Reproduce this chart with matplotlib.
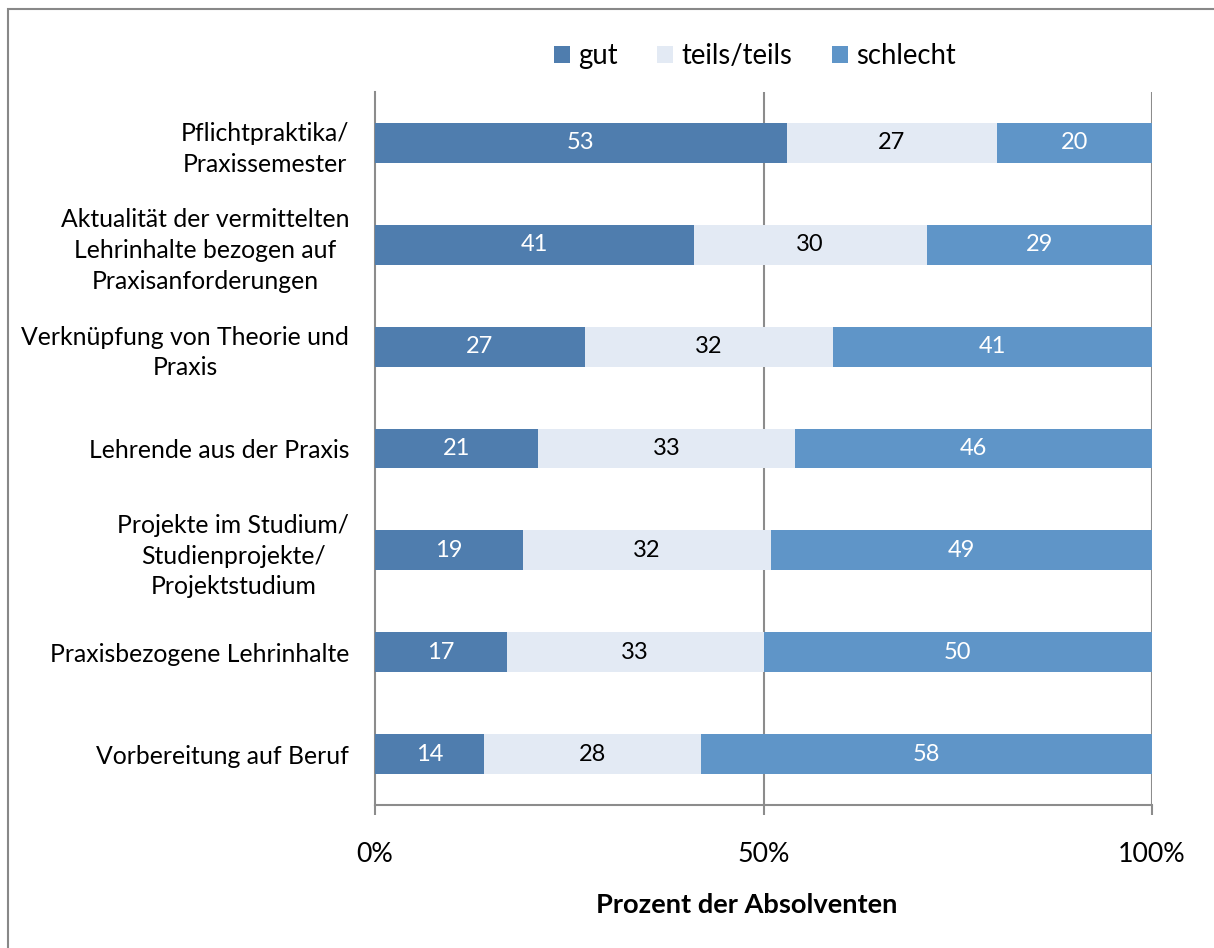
import matplotlib
matplotlib.use("Agg")
import numpy as np
import matplotlib.pyplot as plt
from matplotlib.patches import Rectangle, Patch


categories = [
    "Pflichtpraktika/\nPraxissemester",
    "Aktualität der vermittelten\nLehrinhalte bezogen auf\nPraxisanforderungen",
    "Verknüpfung von Theorie und\nPraxis",
    "Lehrende aus der Praxis",
    "Projekte im Studium/\nStudienprojekte/\nProjektstudium",
    "Praxisbezogene Lehrinhalte",
    "Vorbereitung auf Beruf",
]
gut      = [53, 41, 27, 21, 19, 17, 14]
teils    = [27, 30, 32, 33, 32, 33, 28]
schlecht = [20, 29, 41, 46, 49, 50, 58]
series_names = ["gut", "teils/teils", "schlecht"]
x_ticks = [0, 50, 100]
x_ticklabels = ["0%", "50%", "100%"]

COLORS = ["#4f7dae", "#e3eaf4", "#5f95c8"]
TEXT_COLORS = ["white", "black", "white"]
GRID = "#8c8c8c"

plt.rcParams["font.family"] = ["Lato", "DejaVu Sans"]

W, H = 1214, 948
fig = plt.figure(figsize=(W / 100, H / 100), dpi=100)
ax = fig.add_axes([375 / W, 1 - 805 / H, (1152 - 375) / W, (805 - 92) / H])

y = np.arange(len(categories))
left = np.zeros(len(categories))
for vals, name, col, tcol in zip([gut, teils, schlecht], series_names, COLORS, TEXT_COLORS):
    bars = ax.barh(y, vals, left=left, height=0.39, color=col, label=name, zorder=3)
    ax.bar_label(bars, labels=[str(v) for v in vals], label_type="center",
                 color=tcol, fontsize=17)
    left += np.array(vals)

ax.set_ylim(len(categories) - 0.5, -0.5)
ax.set_xlim(0, 100)
ax.set_yticks(y)
ax.set_yticklabels(categories, fontsize=17.8, multialignment="center", linespacing=1.4)
ax.tick_params(axis="y", length=0, pad=18.5)
ax.set_xticks(x_ticks)
ax.set_xticklabels(x_ticklabels, fontsize=19.3)
ax.tick_params(axis="x", length=7, width=1.5, color=GRID, pad=20)

for x in x_ticks[1:]:
    ax.axvline(x, color=GRID, lw=1.5, zorder=1)
for s in ["top", "right"]:
    ax.spines[s].set_visible(False)
for s in ["left", "bottom"]:
    ax.spines[s].set_color(GRID)
    ax.spines[s].set_linewidth(1.5)

fig.text(747 / W, 1 - 905 / H, "Prozent der Absolventen", ha="center", va="center",
         fontsize=19.6, fontweight="bold")

handles = [Patch(facecolor=c, edgecolor="none") for c in COLORS]
fig.legend(handles, series_names, loc="center", bbox_to_anchor=(755 / W, 1 - 56 / H),
           ncol=3, frameon=False, fontsize=19.8, handlelength=0.58, handleheight=0.58,
           handletextpad=0.3, columnspacing=1.45)

fig.patches.append(Rectangle((8 / W, -0.1), 1.2, 1 - 9 / H + 0.1, transform=fig.transFigure,
                             fill=False, edgecolor="#888888", lw=1.5))

fig.savefig("out.png", dpi=100)
